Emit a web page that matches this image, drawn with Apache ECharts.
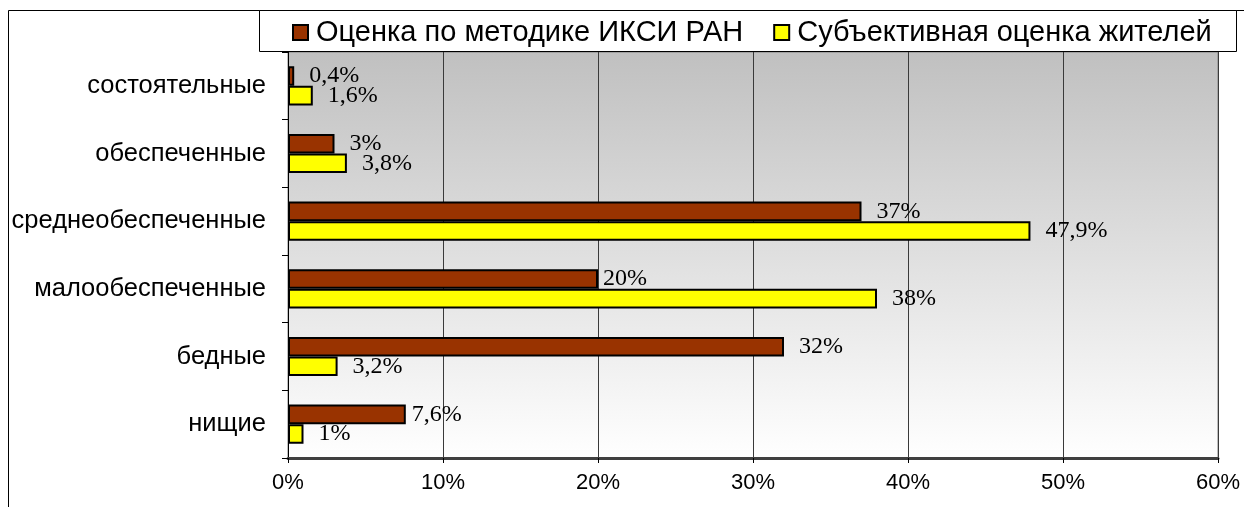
<!DOCTYPE html>
<html>
<head>
<meta charset="UTF-8">
<title></title>
<style>
  html, body { margin: 0; padding: 0; background: #fff; }
  #myChart { width: 1244px; height: 507px; }
</style>
</head>
<body>
<div id="myChart"></div>
<script src="https://cdn.jsdelivr.net/npm/echarts@6/dist/echarts.min.js"></script>
<script>
var categories = ['состоятельные', 'обеспеченные', 'среднеобеспеченные', 'малообеспеченные', 'бедные', 'нищие'];
var seriesNames = ['Оценка по методике ИКСИ РАН', 'Субъективная оценка жителей'];
var iksiValues = [0.4, 3, 37, 20, 32, 7.6];
var residentValues = [1.6, 3.8, 47.9, 38, 3.2, 1];
var xTicks = [0, 10, 20, 30, 40, 50, 60];

// Excel nudges a couple of labels closer to their bars
var iksiLabelDistance = [15, 15, 15, 5, 15, 6];

var myChart = echarts.init(document.getElementById('myChart'));

function pct(v) {
  return String(v).replace('.', ',') + '%';
}

function buildData(values, distances) {
  var out = [];
  for (var i = 0; i < values.length; i++) {
    var item = { value: values[i] };
    if (distances) item.label = { distance: distances[i] };
    out.push(item);
  }
  return out;
}

var labelStyle = {
  show: true,
  position: 'right',
  distance: 15,
  fontFamily: 'Liberation Serif',
  fontSize: 24,
  color: '#000',
  formatter: function (p) { return pct(p.value); }
};

var option = {
  animation: false,
  backgroundColor: '#fff',
  graphic: [{
    type: 'rect',
    z: -10,
    shape: { x: 8.5, y: 10.5, width: 1400, height: 700 },
    style: { fill: null, stroke: '#000', lineWidth: 1 }
  }, {
    type: 'rect',
    z: 20,
    shape: { x: 259.5, y: 10.5, width: 977, height: 41 },
    style: { fill: '#fff', stroke: '#000', lineWidth: 1 }
  }],
  legend: {
    z: 30,
    left: 287,
    top: 13,
    icon: 'rect',
    itemWidth: 15,
    itemHeight: 15,
    itemGap: 30,
    textStyle: { fontFamily: 'Liberation Sans', fontSize: 29, color: '#000', padding: [0, 0, 0, 3] },
    data: seriesNames
  },
  grid: {
    left: 288,
    right: 26,
    top: 52,
    bottom: 49,
    show: true,
    borderColor: '#808080',
    borderWidth: 1,
    backgroundColor: new echarts.graphic.LinearGradient(0, 0, 0, 1, [
      { offset: 0, color: '#c0c0c0' },
      { offset: 1, color: '#ffffff' }
    ])
  },
  xAxis: {
    type: 'value',
    min: xTicks[0],
    max: xTicks[xTicks.length - 1],
    interval: 10,
    axisLine: { show: true, lineStyle: { color: '#404040', width: 3 } },
    axisTick: { show: true, length: 5, lineStyle: { color: '#000' } },
    splitLine: { show: true, lineStyle: { color: '#3a3a3a', width: 1 } },
    axisLabel: {
      margin: 14,
      fontFamily: 'Liberation Sans',
      fontSize: 22,
      color: '#000',
      formatter: '{value}%'
    }
  },
  yAxis: {
    type: 'category',
    inverse: true,
    data: categories,
    axisLine: { show: true, lineStyle: { color: '#000', width: 1 } },
    axisTick: { show: true, length: 6, lineStyle: { color: '#000' } },
    axisLabel: {
      margin: 22,
      fontFamily: 'Liberation Sans',
      fontSize: 25.5,
      color: '#000'
    }
  },
  series: [{
    name: seriesNames[0],
    type: 'bar',
    barGap: '0%',
    barCategoryGap: '42%',
    itemStyle: { color: '#993300', borderColor: '#000', borderWidth: 2 },
    label: labelStyle,
    data: buildData(iksiValues, iksiLabelDistance)
  }, {
    name: seriesNames[1],
    type: 'bar',
    barGap: '0%',
    barCategoryGap: '42%',
    itemStyle: { color: '#ffff00', borderColor: '#000', borderWidth: 2 },
    label: labelStyle,
    data: buildData(residentValues)
  }]
};

myChart.setOption(option);
</script>
</body>
</html>
